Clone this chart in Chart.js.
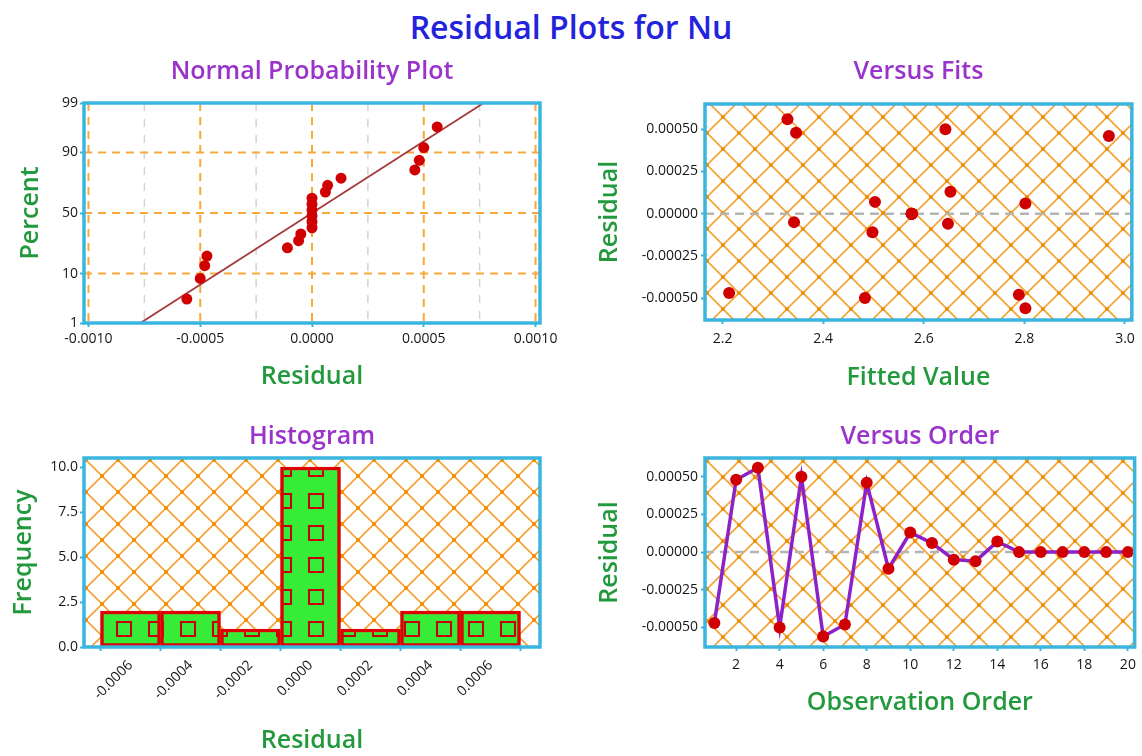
<!DOCTYPE html>
<html>
<head>
<meta charset="utf-8">
<title>Residual Plots for Nu</title>
<script src="https://cdn.jsdelivr.net/npm/chart.js@4.4.1/dist/chart.umd.min.js"></script>
<style>
  html, body { margin: 0; padding: 0; background: #fff; }
  body { width: 1142px; height: 756px; position: relative; overflow: hidden; font-family: 'Open Sans', sans-serif; }
  #main-title { position: absolute; left: 0; top: 6px; width: 1142px; text-align: center;
                font-size: 32px; line-height: 42px; font-weight: 600; color: #2323dd; }
  canvas { position: absolute; }
</style>
</head>
<body>
<div id="main-title">Residual Plots for Nu</div>
<canvas id="probPlot" width="570" height="365" style="left:0;top:40px"></canvas>
<canvas id="fitsPlot" width="562" height="365" style="left:580px;top:40px"></canvas>
<canvas id="histPlot" width="570" height="356" style="left:0;top:400px"></canvas>
<canvas id="orderPlot" width="562" height="356" style="left:580px;top:400px"></canvas>
<script>
// ---- data -------------------------------------------------------------
const observationOrder = [1, 2, 3, 4, 5, 6, 7, 8, 9, 10, 11, 12, 13, 14, 15, 16, 17, 18, 19, 20];
const residuals = [-0.00047, 0.00048, 0.00056, -0.00050, 0.00050, -0.00056, -0.00048, 0.00046, -0.00011, 0.00013,
                   0.00006, -0.00005, -0.00006, 0.00007, 0, 0, 0, 0, 0, 0];
const fittedValues = [2.213, 2.346, 2.329, 2.483, 2.643, 2.802, 2.789, 2.968, 2.498, 2.653,
                      2.802, 2.342, 2.648, 2.503, 2.576, 2.576, 2.576, 2.576, 2.576, 2.576];
// median-rank plotting positions (%) for the sorted residuals
const normalPercents = [3.43, 8.33, 13.24, 18.14, 23.04, 27.94, 32.84, 37.75, 42.65, 47.55,
                        52.45, 57.35, 62.25, 67.16, 72.06, 76.96, 81.86, 86.76, 91.67, 96.57];
const fitMean = 0;
const fitStdDev = 0.00033;

const histBinCenters = [-0.0006, -0.0004, -0.0002, 0, 0.0002, 0.0004, 0.0006];
const histCounts = [2, 2, 1, 10, 1, 2, 2];

// ---- tick / grid values -------------------------------------------------
const probPercentTicks = [1, 10, 50, 90, 99];
const probGridPercents = [10, 50, 90];
const probMajorX = [-0.001, -0.0005, 0, 0.0005, 0.001];
const probMinorX = [-0.00075, -0.00025, 0.00025, 0.00075];
const residualTicks = [-0.0005, -0.00025, 0, 0.00025, 0.0005];
const fittedTicks = [2.2, 2.4, 2.6, 2.8, 3.0];
const orderTicks = [2, 4, 6, 8, 10, 12, 14, 16, 18, 20];
const frequencyTicks = [0, 2.5, 5, 7.5, 10];

// ---- style ------------------------------------------------------------
const FONT = "'Open Sans', sans-serif";
const PURPLE = '#9a32cc';
const GREEN = '#22993c';
const FRAME = '#39b5df';
const POINT_RED = '#d00000';
const TICK_FONT = { size: 14 };
Chart.defaults.font.family = FONT;
Chart.defaults.color = '#161616';

// inverse standard normal CDF (Acklam), used for the probability axis
function probit(p) {
  const a = [-3.969683028665376e+01, 2.209460984245205e+02, -2.759285104469687e+02, 1.383577518672690e+02, -3.066479806614716e+01, 2.506628277459239e+00];
  const b = [-5.447609879822406e+01, 1.615858368580409e+02, -1.556989798598866e+02, 6.680131188771972e+01, -1.328068155288572e+01];
  const c = [-7.784894002430293e-03, -3.223964580411365e-01, -2.400758277161838e+00, -2.549732539343734e+00, 4.374664141464968e+00, 2.938163982698783e+00];
  const d = [7.784695709041462e-03, 3.224671290700398e-01, 2.445134137142996e+00, 3.754408661907416e+00];
  const pl = 0.02425;
  let q, r;
  if (p < pl) {
    q = Math.sqrt(-2 * Math.log(p));
    return (((((c[0]*q+c[1])*q+c[2])*q+c[3])*q+c[4])*q+c[5]) / ((((d[0]*q+d[1])*q+d[2])*q+d[3])*q+1);
  }
  if (p > 1 - pl) {
    q = Math.sqrt(-2 * Math.log(1 - p));
    return -(((((c[0]*q+c[1])*q+c[2])*q+c[3])*q+c[4])*q+c[5]) / ((((d[0]*q+d[1])*q+d[2])*q+d[3])*q+1);
  }
  q = p - 0.5; r = q * q;
  return (((((a[0]*r+a[1])*r+a[2])*r+a[3])*r+a[4])*r+a[5])*q / (((((b[0]*r+b[1])*r+b[2])*r+b[3])*r+b[4])*r+1);
}

// orange diamond cross-hatch with dots at the crossings
function hatchPattern(ctx, ox, oy) {
  const s = 32;
  const c = document.createElement('canvas');
  c.width = s; c.height = s;
  const g = c.getContext('2d');
  g.strokeStyle = '#f6a232';
  g.lineWidth = 1.6;
  g.beginPath();
  for (let k = -1; k <= 1; k++) {
    g.moveTo(-s + k * s, -s); g.lineTo(2 * s + k * s, 2 * s);
    g.moveTo(2 * s + k * s, -s); g.lineTo(-s + k * s, 2 * s);
  }
  g.stroke();
  g.fillStyle = '#f08c00';
  [[0, 0], [s, 0], [0, s], [s, s], [s / 2, s / 2]].forEach(([x, y]) => {
    g.beginPath(); g.arc(x, y, 2, 0, Math.PI * 2); g.fill();
  });
  const p = ctx.createPattern(c, 'repeat');
  p.setTransform(new DOMMatrix().translate(ox, oy));
  return p;
}

// green fill with small red open squares for the histogram bars
function squaresPattern(ctx, ox, oy) {
  const s = 32;
  const c = document.createElement('canvas');
  c.width = s; c.height = s;
  const g = c.getContext('2d');
  g.fillStyle = '#36ec36';
  g.fillRect(0, 0, s, s);
  g.strokeStyle = '#c40000';
  g.lineWidth = 2;
  g.strokeRect(2, 2, 14, 14);
  const p = ctx.createPattern(c, 'repeat');
  p.setTransform(new DOMMatrix().translate(ox, oy));
  return p;
}

// plot-area background, reference lines and blue frame
function framePlugin(opts) {
  let pattern = null;
  return {
    id: 'frame',
    beforeDatasetsDraw(chart) {
      const { ctx, chartArea: a } = chart;
      ctx.save();
      if (opts.hatch) {
        if (!pattern) pattern = hatchPattern(ctx, opts.hatch[0], opts.hatch[1]);
        ctx.fillStyle = pattern;
        ctx.fillRect(a.left, a.top, a.width, a.height);
      }
      if (opts.decorate) opts.decorate(chart, ctx, a);
      if (opts.zeroLine) {
        const y = chart.scales.y.getPixelForValue(0);
        ctx.strokeStyle = '#b4b4b4';
        ctx.lineWidth = 2.5;
        ctx.setLineDash([9, 6]);
        ctx.beginPath(); ctx.moveTo(a.left, y); ctx.lineTo(a.right, y); ctx.stroke();
      }
      ctx.restore();
    },
    afterDatasetsDraw(chart) {
      const { ctx, chartArea: a } = chart;
      ctx.save();
      ctx.strokeStyle = FRAME;
      ctx.lineWidth = 3.5;
      ctx.strokeRect(a.left, a.top, a.width, a.height);
      ctx.restore();
    }
  };
}

// panel heading, centred over the plot area
function titleOpts(text, padTop, padBottom) {
  return { display: true, fullSize: false, text, color: PURPLE,
           font: { size: 25, weight: '600', family: FONT, lineHeight: 1.2 },
           padding: { top: padTop, bottom: padBottom } };
}
function axisTitle(text, pad) {
  return { display: true, text, color: GREEN, font: { size: 25, weight: '600', family: FONT, lineHeight: 1.2 }, padding: pad };
}
function tickGrid() {
  return { drawOnChartArea: false, drawTicks: true, tickLength: 4, tickColor: FRAME, tickWidth: 2 };
}
function fixedTicks(values) {
  return scale => { scale.ticks = values.map(v => ({ value: v })); };
}

// ---- Normal Probability Plot ---------------------------------------------
const sortedResiduals = residuals.slice().sort((p, q) => p - q);
const zLow = probit(0.005), zHigh = probit(0.995);

new Chart(document.getElementById('probPlot'), {
  type: 'scatter',
  data: {
    datasets: [
      {
        data: sortedResiduals.map((r, i) => ({ x: r, y: probit(normalPercents[i] / 100) })),
        backgroundColor: POINT_RED, borderWidth: 0, pointRadius: 5.5
      },
      {
        type: 'line',
        data: [{ x: fitMean + zLow * fitStdDev, y: zLow }, { x: fitMean + zHigh * fitStdDev, y: zHigh }],
        borderColor: '#a63a3a', borderWidth: 1.8, pointRadius: 0, fill: false
      }
    ]
  },
  options: {
    responsive: false, animation: false,
    layout: { autoPadding: false, padding: { left: 0, right: 30, top: 0, bottom: 0 } },
    plugins: { legend: { display: false }, tooltip: { enabled: false },
               title: titleOpts('Normal Probability Plot', 17, 16) },
    scales: {
      x: {
        type: 'linear', min: -0.00102, max: 0.00102,
        afterBuildTicks: fixedTicks(probMajorX),
        afterFit: s => { s.height = 82; },
        ticks: { callback: v => v.toFixed(4), font: TICK_FONT, padding: 4, maxRotation: 0 },
        grid: tickGrid(), border: { display: false },
        title: axisTitle('Residual', { top: 0, bottom: 13 })
      },
      y: {
        type: 'linear', min: probit(0.01), max: probit(0.99),
        afterBuildTicks: fixedTicks(probPercentTicks.map(p => probit(p / 100))),
        afterFit: s => { s.width = 84; },
        ticks: { callback: (v, i) => String(probPercentTicks[i]), font: TICK_FONT, padding: 2 },
        grid: tickGrid(), border: { display: false },
        title: axisTitle('Percent', { top: 16, bottom: 0 })
      }
    }
  },
  plugins: [framePlugin({
    decorate(chart, ctx, a) {
      const xs = chart.scales.x, ys = chart.scales.y;
      ctx.lineWidth = 1.5;
      ctx.strokeStyle = '#d4d4d4';
      ctx.setLineDash([8, 8]);
      probMinorX.forEach(v => {
        const x = xs.getPixelForValue(v);
        ctx.beginPath(); ctx.moveTo(x, a.top); ctx.lineTo(x, a.bottom); ctx.stroke();
      });
      ctx.lineWidth = 2;
      ctx.strokeStyle = '#f7a73c';
      ctx.setLineDash([8, 6]);
      probMajorX.forEach(v => {
        const x = xs.getPixelForValue(v);
        ctx.beginPath(); ctx.moveTo(x, a.top); ctx.lineTo(x, a.bottom); ctx.stroke();
      });
      probGridPercents.forEach(p => {
        const y = ys.getPixelForValue(probit(p / 100));
        ctx.beginPath(); ctx.moveTo(a.left, y); ctx.lineTo(a.right, y); ctx.stroke();
      });
      ctx.setLineDash([]);
    }
  })]
});

// ---- Versus Fits ----------------------------------------------------------
new Chart(document.getElementById('fitsPlot'), {
  type: 'scatter',
  data: {
    datasets: [{
      data: fittedValues.map((f, i) => ({ x: f, y: residuals[i] })),
      backgroundColor: POINT_RED, borderWidth: 0, pointRadius: 6
    }]
  },
  options: {
    responsive: false, animation: false,
    layout: { autoPadding: false, padding: { left: 0, right: 7, top: 0, bottom: 0 } },
    plugins: { legend: { display: false }, tooltip: { enabled: false },
               title: titleOpts('Versus Fits', 17, 17) },
    scales: {
      x: {
        type: 'linear', min: 2.165, max: 3.0136,
        afterBuildTicks: fixedTicks(fittedTicks),
        afterFit: s => { s.height = 85; },
        ticks: { callback: v => v.toFixed(1), font: TICK_FONT, padding: 7, maxRotation: 0 },
        grid: tickGrid(), border: { display: false },
        title: axisTitle('Fitted Value', { top: 0, bottom: 12 })
      },
      y: {
        type: 'linear', min: -0.00063, max: 0.00065,
        afterBuildTicks: fixedTicks(residualTicks),
        afterFit: s => { s.width = 125; },
        ticks: { callback: v => v.toFixed(5), font: TICK_FONT, padding: 3 },
        grid: tickGrid(), border: { display: false },
        title: axisTitle('Residual', { top: 15, bottom: 0 })
      }
    }
  },
  plugins: [framePlugin({ hatch: [15, 13], zeroLine: true })]
});

// ---- Histogram --------------------------------------------------------------
const histCtx = document.getElementById('histPlot').getContext('2d');
new Chart(histCtx, {
  type: 'bar',
  data: {
    datasets: [{
      data: histBinCenters.map((x, i) => ({ x, y: histCounts[i] })),
      backgroundColor: squaresPattern(histCtx, 19, 28),
      borderColor: '#dc0000', borderWidth: 3.5, borderSkipped: false,
      barPercentage: 1, categoryPercentage: 1
    }]
  },
  options: {
    responsive: false, animation: false,
    layout: { autoPadding: false, padding: { left: 0, right: 30, top: 0, bottom: 0 } },
    plugins: { legend: { display: false }, tooltip: { enabled: false },
               title: titleOpts('Histogram', 22, 6) },
    scales: {
      x: {
        type: 'linear', offset: false, min: -0.000755, max: 0.000765,
        afterBuildTicks: fixedTicks(histBinCenters),
        afterFit: s => { s.height = 109; },
        ticks: { callback: v => v.toFixed(4), font: TICK_FONT, padding: 6, minRotation: 45, maxRotation: 45 },
        grid: tickGrid(), border: { display: false },
        title: axisTitle('Residual', { top: 0, bottom: 0 })
      },
      y: {
        type: 'linear', min: 0, max: 10.5,
        afterBuildTicks: fixedTicks(frequencyTicks),
        afterFit: s => { s.width = 84; },
        ticks: { callback: v => v.toFixed(1), font: TICK_FONT, padding: 2 },
        grid: tickGrid(), border: { display: false },
        title: axisTitle('Frequency', { top: 9, bottom: 0 })
      }
    }
  },
  plugins: [framePlugin({ hatch: [6, 12] })]
});

// ---- Versus Order -----------------------------------------------------------
new Chart(document.getElementById('orderPlot'), {
  type: 'scatter',
  data: {
    datasets: [{
      data: observationOrder.map((o, i) => ({ x: o, y: residuals[i] })),
      showLine: true, borderColor: '#8b22c9', borderWidth: 3.5,
      pointBackgroundColor: POINT_RED, pointBorderWidth: 0, pointRadius: 6
    }]
  },
  options: {
    responsive: false, animation: false,
    layout: { autoPadding: false, padding: { left: 0, right: 7, top: 0, bottom: 0 } },
    plugins: { legend: { display: false }, tooltip: { enabled: false },
               title: titleOpts('Versus Order', 22, 6) },
    scales: {
      x: {
        type: 'linear', min: 0.57, max: 20.31,
        afterBuildTicks: fixedTicks(orderTicks),
        afterFit: s => { s.height = 109; },
        ticks: { callback: v => String(v), font: TICK_FONT, padding: 6, maxRotation: 0 },
        grid: tickGrid(), border: { display: false },
        title: axisTitle('Observation Order', { top: 0, bottom: 38 })
      },
      y: {
        type: 'linear', min: -0.00063, max: 0.000625,
        afterBuildTicks: fixedTicks(residualTicks),
        afterFit: s => { s.width = 125; },
        ticks: { callback: v => v.toFixed(5), font: TICK_FONT, padding: 3 },
        grid: tickGrid(), border: { display: false },
        title: axisTitle('Residual', { top: 15, bottom: 0 })
      }
    }
  },
  plugins: [framePlugin({ hatch: [15, 13], zeroLine: true })]
});
</script>
</body>
</html>
